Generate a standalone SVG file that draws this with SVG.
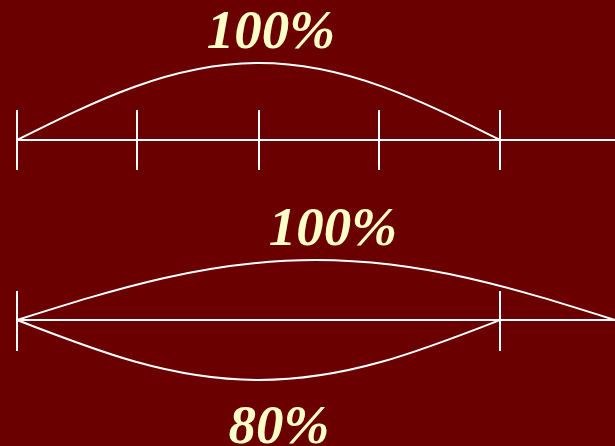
<svg xmlns="http://www.w3.org/2000/svg" width="615" height="446" viewBox="0 0 615 446">
<style>
.ln{stroke:#fff;stroke-width:2;fill:none}
.lb{font-family:"Liberation Serif","Times New Roman",serif;font-weight:bold;font-style:italic;font-size:55px;fill:#ffffc8}
</style>
<rect width="615" height="446" fill="#6b0000"/>
<g id="connectors">
<g id="top-axis">
<line class="ln" x1="17" y1="140" x2="615" y2="140"/>
<line class="ln" x1="17" y1="110" x2="17" y2="170"/>
<line class="ln" x1="137" y1="110" x2="137" y2="170"/>
<line class="ln" x1="259" y1="110" x2="259" y2="170"/>
<line class="ln" x1="379" y1="110" x2="379" y2="170"/>
<line class="ln" x1="500" y1="110" x2="500" y2="170"/>
<path class="ln" d="M17,140 C95.9,100.6 171.4,63 259,63 C346.6,63 421.1,100.6 500,140"/>
</g>
<g id="bottom-axis">
<line class="ln" x1="17" y1="320" x2="615" y2="320"/>
<line class="ln" x1="17" y1="291" x2="17" y2="351"/>
<line class="ln" x1="500" y1="291" x2="500" y2="351"/>
<path class="ln" d="M17,320 C114.5,289.3 206.6,260 316,260 C425.4,260 517.5,289.3 615,320"/>
<path class="ln" d="M17,320 C95.9,350.7 171.4,380 259,380 C346.6,380 421.1,350.7 500,320"/>
</g>
</g>
<g id="label-top"><text class="lb" x="271" y="48" text-anchor="middle">100%</text></g>
<g id="label-mid"><text class="lb" x="333" y="245" text-anchor="middle">100%</text></g>
<g id="label-bottom"><text class="lb" x="279" y="443" text-anchor="middle">80%</text></g>
</svg>
